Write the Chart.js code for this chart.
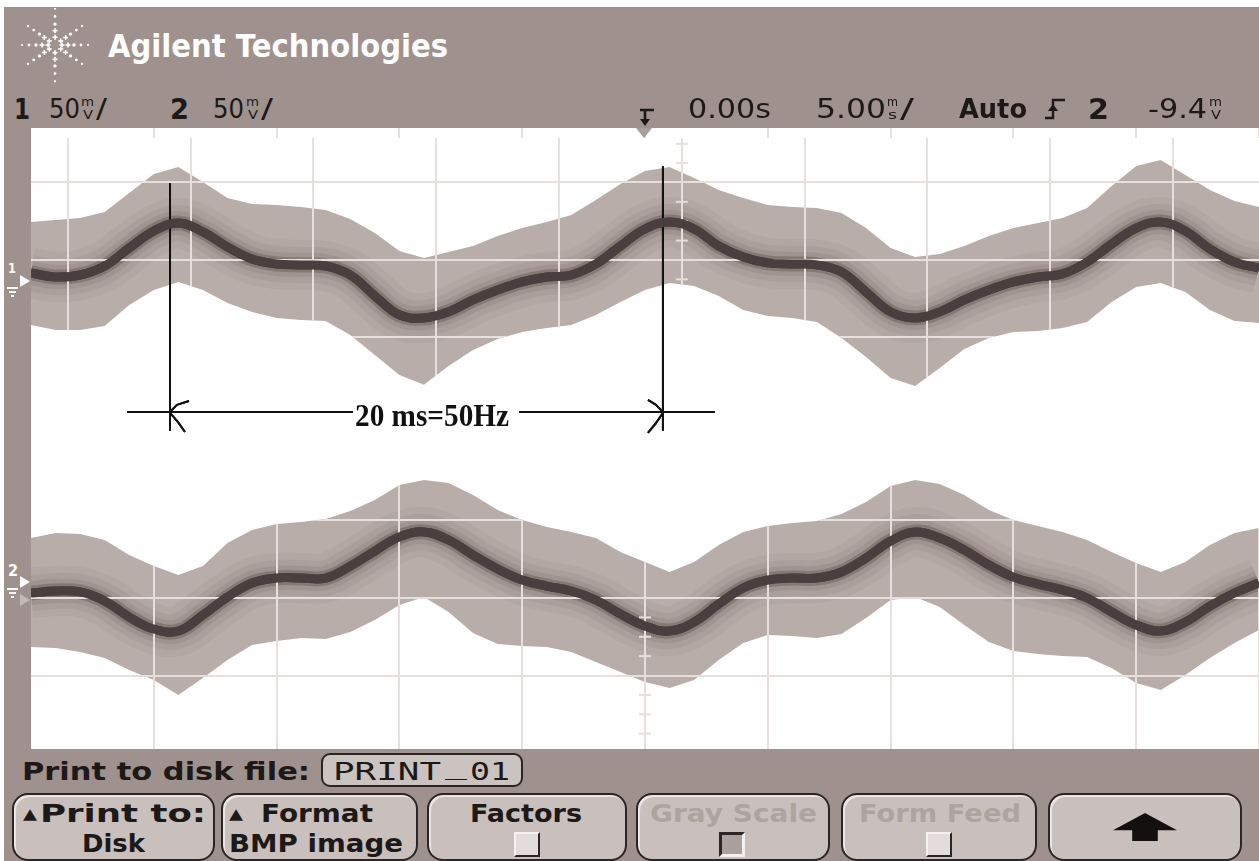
<!DOCTYPE html>
<html lang="en">
<head>
<meta charset="utf-8">
<title>Agilent Technologies - 50 Hz mains, print to disk</title>
<script src="https://cdn.jsdelivr.net/npm/chart.js@4.4.1/dist/chart.umd.min.js"></script>
<style>
  html, body { margin: 0; padding: 0; background: #fff; }
  body { position: relative; width: 1259px; height: 861px; overflow: hidden; }
  #panel { position: absolute; left: 4px; top: 7px; width: 1255px; height: 854px; background: #9f918d; }
  #screen { position: absolute; left: 31px; top: 128px; width: 1228px; height: 621px; background: #fff; }
  #screen canvas { position: absolute; left: 0; }
  #ch1 { top: 0; }
  #ch2 { top: 348px; }
  .txt { position: absolute; white-space: pre; transform-origin: 0 0; }
  .key { position: absolute; top: 793px; height: 68px; box-sizing: border-box; background: #c9c0bd;
         border: 2px solid #2b2525; border-radius: 16px; box-shadow: inset 2px 2px 0 #ebe6e4; }
  .check { position: absolute; top: 832px; width: 26px; height: 25px; box-sizing: border-box; }
  .check.open { background: #e2dcda; border: 2px solid; border-color: #f4f1f0 #2b2525 #2b2525 #f4f1f0; }
  .check.filled { background: #aaa09c; border: 3px solid; border-color: #2b2525 #f4f1f0 #f4f1f0 #2b2525; }
  #fileBox { position: absolute; left: 321px; top: 753px; width: 202px; height: 34px; box-sizing: border-box;
             background: #cbc3c0; border: 2px solid #2b2525; border-radius: 9px; }
  #upArrow { position: absolute; left: 1113px; top: 813px; width: 64px; height: 28px; background: #141010;
             clip-path: polygon(50% 0, 100% 62%, 70% 62%, 70% 100%, 30% 100%, 30% 62%, 0 62%); }
  #trigMark { position: absolute; left: 636px; top: 128px; width: 0; height: 0;
              border-left: 8px solid transparent; border-right: 8px solid transparent; border-top: 10px solid #a99e9a; }
  .arrow { position: absolute; left: 20px; width: 0; height: 0; border-top: 6px solid transparent;
           border-bottom: 6px solid transparent; border-left: 10px solid #fff; }
  .gnd { position: absolute; height: 2px; background: #fff; }
</style>
</head>
<body>
<div id="panel"></div>
<svg id="logo" style="position:absolute;left:14px;top:8px" width="82" height="76"></svg>
<svg style="position:absolute;left:637px;top:106px" width="20" height="22">
  <path d="M3 4H17M8 4V15" stroke="#1d1918" stroke-width="2.6" fill="none"/>
  <path d="M3 13L8 20L13 13Z" fill="#1d1918"/>
</svg>
<svg style="position:absolute;left:1044px;top:97px" width="24" height="24">
  <path d="M1 21H9V3H21" stroke="#1d1918" stroke-width="2.4" fill="none"/>
  <path d="M4 14L9 7L14 14Z" fill="#1d1918"/>
</svg>
<div id="screen">
  <canvas id="ch1" width="1228" height="317"></canvas>
  <canvas id="ch2" width="1228" height="273"></canvas>
</div>
<div id="trigMark"></div>
<div class="arrow" style="top:275px"></div>
<div class="gnd" style="left:7px;top:287px;width:11px"></div>
<div class="gnd" style="left:9px;top:291px;width:7px"></div>
<div class="gnd" style="left:11px;top:295px;width:3px"></div>
<div class="arrow" style="top:576px"></div>
<div class="arrow" style="top:594px;border-left-color:#c4bab7"></div>
<div class="gnd" style="left:7px;top:588px;width:11px"></div>
<div class="gnd" style="left:9px;top:592px;width:7px"></div>
<div class="gnd" style="left:11px;top:596px;width:3px"></div>
<div id="fileBox"></div>
<div class="key" style="left:12px;width:203px"></div>
<div class="key" style="left:221px;width:197px"></div>
<div class="key" style="left:427px;width:200px"></div>
<div class="key" style="left:636px;width:194px"></div>
<div class="key" style="left:841px;width:196px"></div>
<div class="key" style="left:1048px;width:194px"></div>
<div class="check open" style="left:514px"></div>
<div class="check filled" style="left:719px"></div>
<div class="check open" style="left:926px"></div>
<div id="upArrow"></div>

<script>
// time base: 5 ms/div, 10 divisions, trigger at 0
const timeMs = [-25, -24, -23, -22, -21, -20, -19, -18, -17, -16,
                -15, -14, -13, -12, -11, -10, -9, -8, -7, -6,
                -5, -4, -3, -2, -1, 0, 1, 2, 3, 4,
                5, 6, 7, 8, 9, 10, 11, 12, 13, 14,
                15, 16, 17, 18, 19, 20, 21, 22, 23, 24, 25];

// channel 1 (mV from its centre graticule line): averaged trace and noise envelope
const ch1Mv = [-8.4, -11.0, -9.7, -3.9, 7.7, 18.7, 23.9, 18.1, 8.4, 0.6,
               -2.6, -3.2, -3.9, -9.7, -23.2, -35.5, -37.4, -33.5, -25.8, -19.4,
               -14.2, -11.0, -9.7, -2.6, 9.0, 20.0, 24.5, 20.0, 9.0, 1.9,
               -1.9, -2.6, -3.2, -7.7, -20.6, -33.5, -37.4, -33.5, -25.8, -19.4,
               -14.2, -11.0, -9.0, -1.3, 10.3, 20.6, 24.5, 18.7, 7.1, -1.3, -5.2];
const ch1Upper = [24.5, 25.8, 27.1, 31.0, 43.2, 55.5, 60.0, 50.3, 40.0, 36.1,
                  35.5, 34.2, 32.3, 26.5, 17.4, 5.8, 1.3, 5.2, 9.0, 15.5,
                  20.6, 24.5, 29.0, 38.7, 49.0, 57.4, 60.0, 52.9, 45.2, 40.0,
                  35.5, 34.2, 33.5, 30.3, 20.6, 7.7, 1.9, 3.9, 9.0, 15.5,
                  20.6, 23.9, 27.1, 33.5, 47.7, 60.6, 64.5, 54.8, 45.2, 38.1, 34.2];
const ch1Lower = [-41.9, -45.2, -45.2, -42.6, -29.0, -19.4, -14.2, -19.4, -27.7, -33.5,
                  -37.4, -38.7, -39.4, -48.4, -61.3, -74.2, -80.6, -68.4, -58.1, -51.0,
                  -46.5, -43.9, -41.9, -35.5, -27.1, -19.4, -14.8, -16.8, -23.2, -32.3,
                  -36.1, -37.4, -40.0, -50.3, -62.6, -76.1, -81.3, -69.7, -57.4, -50.3,
                  -46.5, -45.8, -43.9, -40.0, -27.1, -17.4, -14.8, -20.6, -32.3, -39.4, -40.6];

// channel 2
const ch2Mv = [3.2, 4.5, 3.9, -1.9, -12.3, -20.0, -21.3, -11.0, 0.6, 9.7,
               12.9, 12.9, 12.9, 20.6, 30.3, 39.4, 42.6, 37.4, 27.7, 18.7,
               11.6, 7.7, 4.5, -1.3, -10.3, -18.1, -21.3, -15.5, -3.9, 6.5,
               11.6, 12.9, 12.9, 16.8, 25.8, 36.8, 42.6, 38.7, 31.0, 21.3,
               13.5, 9.0, 5.2, 0.0, -9.0, -17.4, -21.3, -15.5, -5.2, 3.2, 9.7];
const ch2Upper = [38.7, 41.9, 41.3, 37.4, 27.7, 20.6, 14.8, 20.6, 35.5, 43.9,
                  47.7, 49.0, 51.0, 56.1, 63.2, 72.9, 76.1, 74.2, 66.5, 56.8,
                  50.3, 45.8, 42.6, 38.7, 29.7, 23.2, 16.8, 23.2, 34.2, 42.6,
                  46.5, 48.4, 49.7, 54.2, 61.9, 72.3, 76.1, 73.5, 66.5, 56.8,
                  50.3, 46.5, 42.6, 37.4, 29.7, 22.6, 16.8, 23.2, 34.2, 41.9, 45.2];
const ch2Lower = [-31.6, -32.3, -34.8, -38.7, -46.5, -52.9, -62.6, -51.6, -40.0, -30.3,
                  -27.7, -25.8, -26.5, -21.9, -14.2, -4.5, 0.6, -9.0, -22.6, -29.7,
                  -31.0, -31.6, -34.8, -41.3, -47.7, -54.2, -58.1, -52.9, -40.0, -29.0,
                  -23.9, -24.5, -25.8, -23.2, -12.9, -1.3, 0.6, -5.8, -17.4, -28.4,
                  -34.2, -36.1, -37.4, -38.1, -45.2, -54.8, -59.4, -49.7, -38.7, -29.0, -20.6];

// graticule (the upper half of the screen shot is offset from the lower half)
const gridTimesTop = [-23.5, -18.5, -13.5, -8.5, -3.5, 1.5, 6.5, 11.5, 16.5, 21.5];
const gridTimesBottom = [-20, -15, -10, -5, 0, 5, 10, 15, 20, 25];
const frameTicks = [-20, -15, -10, -5, 0, 5, 10, 15, 20, 25];
const gridMv = [-50, 0, 50];
const minorTop = [75, 62.5, 37.5, 25, 12.5, -12.5];
const minorBottom = [-12.5, -25, -37.5, -62.5, -75, -87.5];

// hand-drawn period marker on channel 1: [ms, mV]
const periodMarks = [
  [[-19.34, 49.0], [-19.34, -109.7]],
  [[0.73, 60.0], [0.73, -109.7]],
  [[-21.09, -98.1], [-11.89, -98.1]],
  [[-5.13, -98.1], [2.85, -98.1]],
  [[-19.34, -98.1], [-19.06, -93.5], [-18.57, -91.0]],
  [[-19.34, -98.7], [-19.02, -104.5], [-18.73, -111.0]],
  [[0.73, -98.1], [0.45, -93.5], [0.12, -90.3]],
  [[0.73, -98.7], [0.45, -105.2], [0.12, -111.6]]
];

const INK = '#1d1918', DIM = '#aea49f', GRID = '#e6dfdc', BAND = '#b8ada9';

// trace layers, widest glow first
const traceLayers = [
  { width: 50, colour: 'rgba(130,116,112,0.10)' },
  { width: 36, colour: 'rgba(125,110,107,0.13)' },
  { width: 24, colour: 'rgba(110,96,93,0.18)' },
  { width: 15, colour: 'rgba(85,72,70,0.35)' },
  { width: 9, colour: '#4a3f3e', onTop: true },
  { width: 4, colour: '#2e2626', onTop: true }
];

// grid only where the scope actually shows it; trace redrawn over the grid
const gridClip = {
  id: 'gridClip',
  afterDatasetsDraw(chart, args, opts) {
    const idx = chart.data.datasets.findIndex(d => d.gridEdge);
    const pts = chart.getDatasetMeta(idx).data;
    const { ctx, chartArea: a } = chart;
    const edge = opts.side === 'above' ? a.top : a.bottom;
    ctx.save();
    ctx.beginPath();
    ctx.moveTo(a.left, edge);
    pts.forEach(p => ctx.lineTo(p.x, p.y));
    ctx.lineTo(a.right, edge);
    ctx.closePath();
    ctx.clip();
  },
  afterDraw(chart) {
    chart.ctx.restore();
    chart.data.datasets.forEach((d, i) => {
      if (d.onTop) chart.getDatasetMeta(i).controller.draw();
    });
  }
};

function tickList(values) {
  return scale => { scale.ticks = values.map(v => ({ value: v })); };
}

function scopeChart(id, cfg) {
  const pts = arr => timeMs.map((t, i) => ({ x: t, y: arr[i] }));
  const datasets = [
    ...cfg.marks.map(seg => ({
      data: seg.map(([x, y]) => ({ x, y })), borderColor: '#111', borderWidth: 2,
      tension: 0, clip: false, onTop: true, order: 0
    })),
    { data: cfg.minor.map(v => ({ x: cfg.centre, y: v })), showLine: false, pointStyle: 'line',
      pointRadius: 6, pointBorderColor: GRID, pointBorderWidth: 2, order: 0 },
    ...traceLayers.slice().reverse().map((l, k) => ({
      data: pts(cfg.core), borderColor: l.colour, borderWidth: l.width, onTop: !!l.onTop, order: 1 + k
    })),
    { data: pts(cfg.upper), borderColor: 'transparent', borderWidth: 0, tension: 0,
      fill: '+1', backgroundColor: BAND, order: 10, gridEdge: cfg.side === 'below' },
    { data: pts(cfg.lower), borderColor: 'transparent', borderWidth: 0, tension: 0,
      order: 11, gridEdge: cfg.side === 'above' }
  ];

  const hidden = { ticks: { display: false }, border: { display: false } };
  const scales = {
    x: { ...hidden, type: 'linear', min: -25, max: 25, afterBuildTicks: tickList(cfg.gridTimes),
         grid: { color: GRID, lineWidth: 2, drawTicks: false, z: 1 } },
    y: { ...hidden, type: 'linear', min: cfg.yMin, max: cfg.yMax, afterBuildTicks: tickList(gridMv),
         grid: { color: GRID, lineWidth: 2, drawTicks: false, z: 1 } }
  };
  if (cfg.frame) {
    scales.xFrame = { ...hidden, type: 'linear', position: 'top', min: -25, max: 25,
      afterBuildTicks: tickList(frameTicks),
      grid: { color: GRID, lineWidth: 2, drawOnChartArea: false, drawTicks: true, tickLength: 10 } };
  }

  return new Chart(document.getElementById(id), {
    type: 'line',
    data: { datasets },
    options: {
      responsive: false,
      animation: false,
      events: [],
      layout: { autoPadding: false, padding: { left: 0, right: 0, top: 0, bottom: cfg.padBottom } },
      elements: { point: { radius: 0 }, line: { tension: 0.4, borderJoinStyle: 'round' } },
      plugins: { legend: { display: false }, tooltip: { enabled: false }, gridClip: { side: cfg.side } },
      scales
    },
    plugins: [gridClip]
  });
}

scopeChart('ch1', {
  core: ch1Mv, upper: ch1Upper, lower: ch1Lower, gridTimes: gridTimesTop,
  yMin: -85.2, yMax: 78.7, padBottom: 53, frame: true, side: 'above',
  minor: minorTop, centre: 1.5, marks: periodMarks
});
scopeChart('ch2', {
  core: ch2Mv, upper: ch2Upper, lower: ch2Lower, gridTimes: gridTimesBottom,
  yMin: -97.4, yMax: 78.7, padBottom: 0, frame: false, side: 'below',
  minor: minorBottom, centre: 0, marks: []
});

// screen texts: [text, left, baseline, font, colour, width]
const B = '"DejaVu Sans"';
const texts = [
  ['Agilent Technologies', 108, 57, `bold 32px ${B}`, '#fff', 340],
  ['1', 14, 119, `bold 28px ${B}`, INK, 16],
  ['50', 49, 118, `26px ${B}`, INK, 31],
  ['m', 81, 106, `12px ${B}`, INK, 13],
  ['V', 83, 119, `12px ${B}`, INK, 10],
  ['/', 96, 118, `26px ${B}`, INK, 11],
  ['2', 170, 119, `bold 28px ${B}`, INK, 19],
  ['50', 213, 118, `26px ${B}`, INK, 31],
  ['m', 246, 106, `12px ${B}`, INK, 13],
  ['V', 248, 119, `12px ${B}`, INK, 10],
  ['/', 261, 118, `26px ${B}`, INK, 12],
  ['0.00s', 688, 118, `26px ${B}`, INK, 83],
  ['5.00', 816, 118, `26px ${B}`, INK, 70],
  ['m', 887, 106, `12px ${B}`, INK, 11],
  ['s', 888, 119, `12px ${B}`, INK, 9],
  ['/', 900, 118, `26px ${B}`, INK, 14],
  ['Auto', 959, 118, `bold 26px ${B}`, INK, 68],
  ['2', 1088, 119, `bold 28px ${B}`, INK, 21],
  ['-9.4', 1148, 118, `26px ${B}`, INK, 59],
  ['m', 1209, 106, `12px ${B}`, INK, 13],
  ['V', 1211, 119, `12px ${B}`, INK, 10],
  ['1', 8, 273, `bold 14px ${B}`, '#fff', 8],
  ['2', 8, 576, `bold 15px ${B}`, '#fff', 10],
  ['20 ms=50Hz', 355, 426, 'bold 32px "Liberation Serif"', '#111', 154],
  ['Print to disk file:', 22, 780, `bold 25px ${B}`, INK, 288],
  ['PRINT', 333, 780, '24px "DejaVu Sans Mono"', INK, 108],
  ['_', 445, 774, '24px "DejaVu Sans Mono"', INK, 22],
  ['01', 470, 780, '24px "DejaVu Sans Mono"', INK, 40],
  ['\u25B2', 23, 819, `15px ${B}`, INK, 14],
  ['Print to:', 40, 822, `bold 24px ${B}`, INK, 166],
  ['Disk', 82, 852, `bold 24px ${B}`, INK, 63],
  ['\u25B2', 229, 819, `15px ${B}`, INK, 14],
  ['Format', 261, 822, `bold 24px ${B}`, INK, 112],
  ['BMP image', 229, 852, `bold 24px ${B}`, INK, 174],
  ['Factors', 470, 822, `bold 24px ${B}`, INK, 112],
  ['Gray Scale', 650, 822, `bold 24px ${B}`, DIM, 167],
  ['Form Feed', 859, 822, `bold 24px ${B}`, DIM, 162]
];

const measure = document.createElement('canvas').getContext('2d');
texts.forEach(([str, x, baseline, font, colour, width]) => {
  measure.font = font;
  const m = measure.measureText(str);
  const asc = m.fontBoundingBoxAscent, desc = m.fontBoundingBoxDescent;
  const el = document.createElement('span');
  el.className = 'txt';
  el.textContent = str;
  el.style.font = font;
  el.style.lineHeight = (asc + desc) + 'px';
  el.style.left = x + 'px';
  el.style.top = (baseline - asc) + 'px';
  el.style.color = colour;
  el.style.transform = `scaleX(${width / m.width})`;
  document.body.appendChild(el);
});

// Agilent spark logo
const logo = document.getElementById('logo');
const rays = [0, 35, 90, 145, 180, 215, 270, 325];
const radii = [7, 13, 19, 26, 33];
let svg = '';
rays.forEach(a => {
  const r0 = (a === 90 || a === 270) ? 1.1 : 1;
  radii.forEach((r, k) => {
    const cx = 41 + r * r0 * Math.cos(a * Math.PI / 180);
    const cy = 37 - r * r0 * Math.sin(a * Math.PI / 180);
    if (k < 2) {
      svg += `<rect x="${cx - 2.5}" y="${cy - 0.8}" width="5" height="1.6" fill="#fff"/>` +
             `<rect x="${cx - 0.8}" y="${cy - 2.5}" width="1.6" height="5" fill="#fff"/>`;
    } else {
      svg += `<circle cx="${cx}" cy="${cy}" r="${1.7 - 0.3 * (k - 2)}" fill="#fff"/>`;
    }
  });
});
logo.innerHTML = svg;
</script>
</body>
</html>
